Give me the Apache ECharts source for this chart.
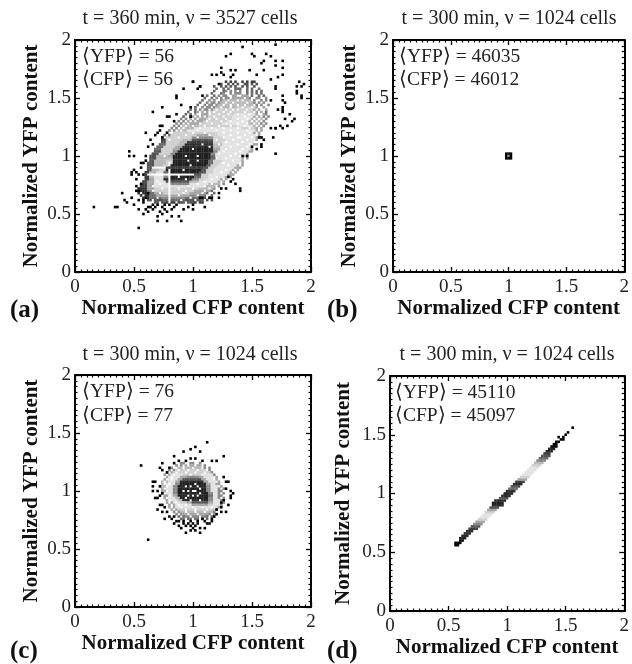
<!DOCTYPE html>
<html>
<head>
<meta charset="utf-8">
<style>html,body{margin:0;padding:0;background:#fff}#c{width:632px;height:664px}</style>
<script src="https://cdn.jsdelivr.net/npm/echarts@6/dist/echarts.min.js"></script>
</head>
<body>
<div id="c"></div>
<script>
const panelTitles = ['t = 360 min, ν = 3527 cells','t = 300 min, ν = 1024 cells','t = 300 min, ν = 1024 cells','t = 300 min, ν = 1024 cells'];
const panelLetters = ['(a)','(b)','(c)','(d)'];
const yfpMeans = [56,46035,76,45110];
const cfpMeans = [56,46012,77,45097];
const xAxisName = 'Normalized CFP content';
const yAxisName = 'Normalized YFP content';
const tickStep = 0.5;
const axisMax = 2;
const binWidth = 0.02;
const grays = ['#202020','#2a2a2a','#3c3c3c','#525252','#6a6a6a','#888','#a4a4a4','#b8b8b8','#cfcfcf','#e2e2e2','#000'];

// rows of cells: [row, [[firstCol,lastCol,shade],...]]
const rowsA = [
[30,[[34,38,3],[39,44,2],[45,50,3],[51,54,2]]],
[31,[[31,37,3],[38,46,4],[47,53,3],[54,58,3]]],
[32,[[29,31,1],[32,36,4],[37,46,5],[47,54,4],[55,57,3]]],
[33,[[28,31,1],[32,34,4],[35,48,6],[49,54,5],[55,58,4]]],
[34,[[27,30,1],[31,33,4],[34,37,6],[38,48,8],[49,55,6],[56,59,4]]],
[35,[[27,30,1],[31,33,5],[34,50,8],[51,57,6],[58,60,4]]],
[36,[[27,30,1],[31,33,6],[34,52,8],[53,58,7],[59,61,5]]],
[37,[[28,30,2],[31,33,6],[34,54,9],[55,60,7],[61,63,5]]],
[38,[[29,30,2],[31,33,6],[34,40,9],[41,48,5],[49,56,9],[57,61,7],[62,64,5]]],
[39,[[29,30,2],[31,33,6],[34,38,9],[39,48,3],[49,52,7],[53,60,9],[61,64,6]]],
[40,[[30,31,2],[32,33,6],[34,37,9],[38,49,1],[50,52,5],[53,55,8],[56,61,9],[62,65,6]]],
[41,[[30,31,2],[32,33,7],[34,37,9],[38,39,5],[40,50,0],[51,53,4],[54,56,8],[57,63,9],[64,66,6]]],
[42,[[30,30,2],[51,53,3],[54,56,8],[57,64,9],[65,67,6]]],
[43,[[30,31,2],[32,34,7],[35,37,9],[38,39,4],[40,52,0],[53,55,3],[56,58,8],[59,65,9],[66,68,6]]],
[44,[[31,32,3],[33,35,7],[36,38,8],[39,53,0],[54,55,3],[56,58,8],[59,66,9],[67,69,6]]],
[45,[[31,32,3],[39,54,2],[55,56,3],[57,59,8],[60,67,9],[68,70,6]]],
[46,[[31,33,3],[34,37,7],[38,40,8],[41,55,0],[56,57,3],[58,60,8],[61,68,9],[69,71,6]]],
[47,[[31,33,3],[34,38,7],[39,41,8],[42,56,0],[57,58,4],[59,61,8],[62,69,9],[70,71,6]]],
[48,[[32,33,3],[34,38,7],[39,41,8],[42,56,0],[57,58,4],[59,62,8],[63,70,9],[71,72,6]]],
[49,[[32,34,3],[35,39,7],[40,41,7],[42,57,0],[58,59,4],[60,70,9],[71,73,6]]],
[50,[[32,34,3],[35,39,7],[40,41,6],[42,57,0],[58,59,4],[60,71,9],[72,73,6]]],
[51,[[33,35,3],[36,40,8],[41,42,5],[43,57,0],[58,59,5],[60,72,9],[73,74,6]]],
[52,[[34,36,3],[37,41,8],[42,43,5],[44,58,0],[59,60,5],[61,73,9],[74,75,6]]],
[53,[[34,36,4],[37,41,8],[42,44,6],[45,58,0],[59,61,6],[62,74,9],[75,76,6]]],
[54,[[35,37,4],[38,42,8],[43,45,6],[46,58,1],[59,61,7],[62,75,9]]],
[55,[[36,38,4],[39,43,8],[44,46,7],[47,58,1],[59,62,7],[63,75,9],[76,77,6]]],
[56,[[37,38,3],[39,44,8],[45,47,7],[48,58,2],[59,62,8],[63,76,9]]],
[57,[[37,38,2],[39,45,8],[46,49,7],[50,58,3],[59,63,8],[64,76,9],[77,78,6]]],
[58,[[37,38,3],[39,49,8],[50,58,5],[59,62,8],[63,76,9],[77,79,6]]],
[59,[[38,40,4],[41,51,8],[52,57,6],[58,60,8],[61,77,9],[78,79,6]]],
[60,[[39,41,5],[42,60,8],[61,75,9],[76,79,6]]],
[61,[[40,43,5],[44,47,7],[48,76,9],[77,80,6]]],
[62,[[41,44,5],[45,50,7],[51,70,9],[71,76,8],[77,80,6]]],
[63,[[42,45,5],[46,52,7],[53,68,8],[69,75,9],[76,78,7],[79,81,5]]],
[64,[[43,46,5],[47,52,6],[53,62,8],[63,72,9],[73,77,7],[78,81,5]]],
[65,[[44,47,5],[48,54,6],[55,64,8],[65,73,9],[74,78,7],[79,81,5]]],
[66,[[45,48,5],[49,55,6],[56,66,8],[67,74,9],[75,79,7],[80,82,5]]],
[67,[[46,49,4],[50,56,6],[57,66,8],[67,75,9],[76,79,6],[80,82,5]]],
[68,[[47,50,4],[51,56,6],[57,67,8],[68,76,9],[77,80,6],[81,82,5]]],
[69,[[48,51,4],[52,57,6],[58,67,8],[68,76,8],[77,80,6],[81,83,4]]],
[70,[[49,52,4],[53,58,5],[59,68,8],[69,75,8],[76,81,6]]],
[71,[[51,53,4],[54,59,5],[60,68,7],[69,76,8],[77,81,6]]],
[72,[[52,54,4],[55,60,5],[61,75,7],[76,82,5]]],
[73,[[53,55,4],[56,61,5],[62,75,7],[76,82,5]]],
[74,[[54,56,4],[57,62,5],[63,74,7],[75,81,5]]],
[75,[[55,58,4],[59,65,5],[66,73,6],[74,81,5]]],
[76,[[56,59,4],[60,66,5],[67,74,6],[75,80,4]]],
[77,[[57,62,4],[63,72,5],[73,80,4]]],
[78,[[58,63,4],[64,72,5],[73,79,4]]],
[79,[[58,66,4],[67,78,4]]],
[80,[[58,70,3],[71,78,3]]],
[81,[[61,72,3],[73,77,3]]],
[82,[[64,68,2],[71,76,2]]]
];
// empty bins inside the rows: [row,[cols]]
const holesA = [
[30,[36,40,43,47,52]],[31,[33,40,45,51,55,57]],[32,[30,35,40,49,54,56]],[33,[29,40,44,52,56,57]],[34,[28,36,40,46,54,57,58]],
[35,[33,40,47,55,59,60]],[36,[37,40,44,50,57,60,61]],[37,[33,40,48,55,60,62,63]],[38,[36,40,52,58,62,64]],[39,[35,40,55,62,64]],
[40,[40,47,58,63,65]],[41,[40,44,60,65]],[43,[40,62,67]],[44,[40,46,64,68]],[46,[40,49,65,70]],[47,[40,63,70]],
[48,[48,52,67,72]],[49,[60,64,72]],[50,[38,47,52,66,70,73]],[51,[61,68,74]],[52,[63,70]],[53,[50,64,71,76]],
[54,[57,66,73]],[55,[54,61,69,74]],[56,[64,71,76]],[57,[40,60,67,73,78]],
[58,[38,44,52,63,69,70,75,78]],[59,[39,47,57,66,72,77,79]],[60,[40,41,50,55,63,69,74,77,79]],
[61,[41,43,45,52,60,66,73,78,80]],[62,[42,44,46,53,58,63,69,74,78,80]],[63,[43,45,47,50,55,61,66,72,77,79,81]],
[64,[44,46,48,53,58,64,69,73,76,78,80]],[65,[45,47,49,51,56,62,66,71,75,77,79,81]],[66,[46,48,50,52,57,60,64,69,73,76,78,80,82]],
[67,[47,48,51,53,55,59,63,72,77,79,81]],[68,[48,50,52,53,57,61,65,69,74,78,79,82]],[69,[49,50,53,55,57,59,63,66,72,76,78,80,82,83]],
[70,[50,52,54,57,60,64,67,69,73,77,79,80]],[71,[52,53,55,58,62,66,71,75,78,79,81]],[72,[53,54,56,59,63,66,69,72,76,78,80,81]],
[73,[54,55,57,60,64,67,73,77,79,81,82]],[74,[55,56,58,60,61,65,69,71,75,77,78,80]],[75,[56,57,59,61,63,66,72,75,76,79,80]],
[76,[57,58,60,62,65,66,69,70,74,76,77,79]],[77,[57,59,60,61,64,65,67,71,72,74,76,78,80]],[78,[58,60,61,62,65,67,69,71,72,74,76,78]],
[79,[58,59,61,62,64,66,67,71,72,74,76,77]],[80,[58,60,61,63,65,67,69,70,72,74,75,77,78]],[81,[61,63,64,66,68,70,71,74,76]],[82,[65,67,72,74]]
];
// lone occupied bins: [col,row]
const dotsA = [
[85,98],[71,97],[66,94],[64,93],[75,94],[76,93],[81,94],[83,93],[79,90],[85,91],[85,89],[88,91],[80,91],[62,88],[62,86],[88,88],
[50,82],[58,85],[60,85],[63,85],[66,87],[68,87],[67,85],[66,84],[74,87],[77,85],[80,87],[83,83],[86,84],[88,85],[95,82],[96,80],
[53,80],[52,79],[61,81],[85,80],[85,79],[88,76],[94,77],[54,76],[83,74],[89,73],[96,76],[88,70],[88,69],[86,70],[93,66],[92,65],
[85,62],[88,62],[90,63],[79,58],[84,58],[78,58],[79,54],[80,57],[37,71],[33,69],[39,67],[37,63],[36,63],[40,67],[43,75],[43,76],
[46,79],[50,82],[53,80],[45,72],[42,65],[49,71],[43,68],[49,67],[23,52],[25,50],[23,50],[30,60],[34,59],[37,58],[39,60],[33,55],
[30,50],[28,45],[25,44],[24,43],[26,43],[27,42],[24,42],[29,47],[30,48],[20,34],[26,35],[27,35],[24,32],[21,31],[22,30],[27,31],
[29,31],[25,29],[27,27],[29,25],[30,27],[31,28],[32,28],[34,28],[37,28],[40,29],[35,24],[37,25],[38,27],[39,26],[41,24],[41,27],
[44,24],[45,22],[46,27],[50,27],[50,29],[55,28],[58,32],[8,28],[17,28],[18,28],[27,19],[35,22],[39,22],[29,30],[30,32],[53,32],
[54,32],[57,32],[61,34],[62,36],[64,36],[66,39],[68,38],[70,36],[70,35],[67,40],[65,41],[61,32],[71,50],[73,50],[85,51],[75,54],
[77,53],[79,55],[88,74],[88,71],[91,68],[89,66],[87,63],[85,62],[83,62],[94,78],[96,75],[97,81],[94,80],[28,38],[26,37],[33,29],
[35,29],[36,26],[38,29],[43,29],[31,26],[33,27],[42,28],[48,28],[31,34],[26,40],[29,42],[28,47],[31,54],[32,57],[35,60],[36,61]
];

const rowsB = [[51,[[49,51,10]]],[50,[[49,49,10],[50,50,5],[51,51,10]]],[49,[[49,51,10]]]];
const holesB = [];
const dotsB = [];

const rowsC = [
[62,[[45,46,5],[49,50,5],[53,53,5]]],
[61,[[43,45,5],[47,53,6],[55,56,5]]],
[60,[[41,43,5],[44,54,7],[55,58,5]]],
[59,[[40,42,5],[43,56,8],[57,59,5]]],
[58,[[39,41,6],[42,57,8],[58,60,5]]],
[57,[[38,40,6],[41,45,9],[46,53,8],[54,58,9],[59,61,5]]],
[56,[[38,39,6],[40,44,9],[45,47,6],[48,52,5],[53,54,6],[55,58,9],[59,61,6]]],
[55,[[38,39,6],[40,43,9],[44,45,6],[46,53,3],[54,55,6],[56,58,9],[59,61,6]]],
[54,[[37,39,7],[40,42,9],[43,44,6],[45,54,1],[55,56,6],[57,59,9],[60,62,6]]],
[53,[[37,38,7],[39,42,9],[43,44,5],[45,55,0],[56,57,6],[58,59,9],[60,62,6]]],
[52,[[37,38,7],[39,41,9],[42,43,5],[44,55,0],[56,57,5],[58,60,9],[61,63,6]]],
[51,[[37,38,6],[39,41,9],[42,43,5],[44,55,0],[56,57,5],[58,60,9],[61,63,5]]],
[50,[[37,38,6],[39,41,9],[42,43,5],[44,55,0],[56,57,5],[58,60,9],[61,63,5]]],
[49,[[37,38,6],[39,41,9],[42,43,5],[44,56,0],[57,58,5],[59,60,9],[61,63,5]]],
[48,[[38,39,6],[40,41,9],[42,43,6],[44,56,0],[57,58,4],[59,60,9],[61,63,5]]],
[47,[[38,39,6],[40,42,9],[43,44,7],[45,56,0],[57,58,5],[59,60,9],[61,63,5]]],
[46,[[39,40,6],[41,43,9],[44,45,7],[46,56,1],[57,58,5],[59,61,9],[62,63,5]]],
[45,[[39,41,6],[42,44,9],[45,47,8],[48,49,6],[50,56,3],[57,58,6],[59,61,9],[62,63,5]]],
[44,[[40,42,6],[43,49,9],[50,56,6],[57,58,8],[59,61,9],[62,63,5]]],
[43,[[40,42,6],[43,60,9],[61,62,6]]],
[42,[[41,43,6],[44,59,8],[60,61,6]]],
[41,[[42,44,5],[45,58,7],[59,60,5]]],
[40,[[43,45,5],[46,56,6],[57,59,5]]],
[39,[[44,46,4],[47,55,5],[56,58,4]]],
[38,[[45,56,4]]]
];
const holesC = [
[61,[44,48,51,56]],[60,[42,43,46,50,54,56,58]],[59,[41,44,48,52,56,58,59]],[58,[40,43,47,51,55,59,60]],[57,[39,42,49,54,60,61]],[56,[38,41,59,61]],
[55,[39,41,59,61]],[54,[38,60,62]],[53,[38,51,40,62]],[52,[47,49,52,39,61,63]],[51,[53,38,62]],[50,[46,48,50,51,39,63]],
[49,[53,38,62]],[48,[48,50,52,40,63]],[47,[47,39,62]],[46,[49,53,40,63]],[45,[40,43,62]],[44,[41,44,47,63]],
[43,[41,45,50,54,58,62]],[42,[42,47,51,56,61]],[41,[43,47,51,55,60]],[40,[44,48,52,58]],[39,[45,49,53,57]],[38,[47,50,53,55]]
];
const dotsC = [
[28,61],[31,29],[56,71],[33,54],[33,52],[33,50],[35,42],[37,62],[36,60],[37,59],[40,60],[39,58],[42,65],[46,67],[49,68],[51,69],
[53,67],[49,64],[51,64],[54,63],[58,63],[60,63],[63,65],[63,56],[64,54],[65,54],[66,50],[66,48],[66,47],[64,51],[63,46],[65,44],
[62,45],[62,43],[64,41],[60,42],[59,39],[58,37],[56,36],[57,36],[53,34],[53,32],[47,32],[49,35],[44,37],[42,39],[40,39],[38,38],
[37,41],[36,44],[37,44],[35,47],[37,49],[36,52],[34,54],[54,38],[51,33],[50,34],[42,62],[47,63],[44,63],
[46,36],[48,36],[50,36],[52,36],[44,35],[47,35],[51,35],[43,37],[46,37],[49,37],[52,37],[55,37],[41,38],[58,38],
[39,41],[60,40],[38,43],[62,41],[36,48],[67,49],[34,47],[35,50],[45,34],[55,34],[49,33],[42,36]
];

const rowsD = [
[28,[[28,29,10]]],[29,[[28,30,10]]],[30,[[30,31,10]]],[31,[[30,32,0]]],[32,[[31,33,1]]],[33,[[32,34,1]]],[34,[[33,35,1]]],
[35,[[34,37,2]]],[36,[[35,38,3]]],[37,[[36,39,5]]],[38,[[37,40,6]]],[39,[[38,41,8]]],[40,[[39,42,9]]],[41,[[40,43,9]]],
[42,[[41,44,8]]],[43,[[42,45,6]]],[44,[[43,46,3]]],[45,[[44,48,1]]],[46,[[44,48,0]]],[47,[[45,49,1]]],[48,[[47,50,3]]],
[49,[[48,51,1]]],[50,[[49,52,0]]],[51,[[50,53,1]]],[52,[[51,54,4]]],[53,[[52,55,3]]],[54,[[53,56,1]]],[55,[[54,57,2]]],
[56,[[55,58,6]]],[57,[[56,59,8]]],[58,[[57,60,9]]],[59,[[58,61,9]]],[60,[[59,62,9]]],[61,[[60,63,9]]],[62,[[61,64,8]]],
[63,[[62,65,7]]],[64,[[63,66,5]]],[65,[[64,67,4]]],[66,[[65,68,3]]],[67,[[66,68,2]]],[68,[[67,69,1]]],[69,[[68,70,0]]],
[70,[[69,71,10]]],[71,[[70,71,10]]],[72,[[71,72,10]]]
];
const holesD = [];
const dotsD = [[73,73],[74,74],[75,75],[76,76],[78,78],[72,74],[74,73]];

const panelData = [[rowsA,holesA,dotsA],[rowsB,holesB,dotsB],[rowsC,holesC,dotsC],[rowsD,holesD,dotsD]];

// frame of each panel in page pixels
const frames = [
 {l:75,r:311,t:40,b:272,xGap:25,yGap:33,tx:190,ty:19,nx:82,n1:57,n2:80,lx:10,ly:311},
 {l:393,r:630,t:40,b:272,xGap:25,yGap:33,tx:509,ty:19,nx:399,n1:57,n2:80,lx:327,ly:311},
 {l:75,r:311,t:375,b:607,xGap:25,yGap:33,tx:190,ty:355,nx:82,n1:392,n2:416,lx:10,ly:652},
 {l:390,r:629,t:376,b:611,xGap:17,yGap:36,tx:507,ty:355,nx:395,n1:393,n2:416,lx:327,ly:652}
];
const serif = '"Liberation Serif","Times New Roman",serif';

function cells(rows, holes, dots){
  const empty = new Set();
  holes.forEach(h => h[1].forEach(c => empty.add(c + ':' + h[0])));
  const out = [];
  rows.forEach(r => r[1].forEach(s => {
    for (let c = s[0]; c <= s[1]; c++) {
      if (!empty.has(c + ':' + r[0])) out.push([c * binWidth, r[0] * binWidth, s[2]]);
    }
  }));
  dots.forEach(d => out.push([d[0] * binWidth, d[1] * binWidth, 10]));
  return out;
}

const grid=[],xAxis=[],yAxis=[],series=[],title=[];
frames.forEach((f,i)=>{
  grid.push({left:f.l,top:f.t,width:f.r-f.l,height:f.b-f.t,containLabel:false,show:false});
  const line={show:true,onZero:false,lineStyle:{color:'#000',width:2}};
  const tick={show:true,inside:true,length:5,lineStyle:{color:'#000',width:1.3}};
  const minor={show:true,splitNumber:10,length:2.5,lineStyle:{color:'#000',width:1.2}};
  const lab={show:true,color:'#222',fontFamily:serif,fontSize:19,margin:6};
  const nameStyle={fontFamily:serif,fontWeight:'bold',fontSize:21,color:'#111'};
  const base={type:'value',min:0,max:axisMax,interval:tickStep,gridIndex:i,axisLine:line,axisTick:tick,minorTick:minor,splitLine:{show:false},minorSplitLine:{show:false}};
  xAxis.push({...base,position:'bottom',axisLabel:{...lab},name:xAxisName,nameLocation:'middle',nameGap:f.xGap,nameTextStyle:nameStyle});
  xAxis.push({...base,position:'top',axisLabel:{show:false}});
  yAxis.push({...base,position:'left',axisLabel:{...lab,margin:4},name:yAxisName,nameLocation:'middle',nameGap:f.yGap,nameTextStyle:nameStyle});
  yAxis.push({...base,position:'right',axisLabel:{show:false}});
  series.push({type:'scatter',xAxisIndex:i*2,yAxisIndex:i*2,symbol:'rect',symbolSize:2.6,silent:true,
    data:cells(...panelData[i]),
    itemStyle:{opacity:1,color:p=>grays[p.value[2]]}});
  series.push({type:'scatter',xAxisIndex:i*2+1,yAxisIndex:i*2+1,data:[],silent:true});
  title.push({text:panelTitles[i],left:f.tx,top:f.ty,textAlign:'center',textVerticalAlign:'middle',textStyle:{fontFamily:serif,fontWeight:'normal',fontSize:20,color:'#222'},padding:0});
  title.push({text:'⟨YFP⟩ = '+yfpMeans[i],left:f.nx,top:f.n1,textVerticalAlign:'middle',textStyle:{fontFamily:serif,fontWeight:'normal',fontSize:19.5,color:'#222'},padding:0});
  title.push({text:'⟨CFP⟩ = '+cfpMeans[i],left:f.nx,top:f.n2,textVerticalAlign:'middle',textStyle:{fontFamily:serif,fontWeight:'normal',fontSize:19.5,color:'#222'},padding:0});
  title.push({text:panelLetters[i],left:f.lx,top:f.ly,textVerticalAlign:'middle',textStyle:{fontFamily:serif,fontWeight:'bold',fontSize:25,color:'#111'},padding:0});
});
const chart=echarts.init(document.getElementById('c'),null,{renderer:'canvas'});
chart.setOption({animation:false,backgroundColor:'#fff',title,grid,xAxis,yAxis,series,tooltip:{show:false}});
</script>
</body>
</html>
